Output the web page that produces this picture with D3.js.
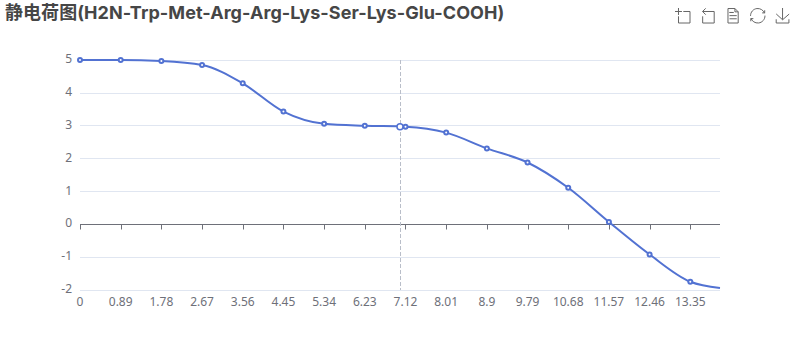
<!DOCTYPE html>
<html><head><meta charset="utf-8">
<script src="https://cdn.jsdelivr.net/npm/d3@7/dist/d3.min.js"></script>
<style>html,body{margin:0;padding:0;background:#fff}svg{display:block}</style>
</head><body><svg id="c" width="800" height="360"></svg>
<script>
const titleText = "静电荷图(H2N-Trp-Met-Arg-Arg-Lys-Ser-Lys-Glu-COOH)";
const pH = [0,0.89,1.78,2.67,3.56,4.45,5.34,6.23,7.12,8.01,8.9,9.79,10.68,11.57,12.46,13.35];
const charge = [5,5,4.97,4.85,4.29,3.43,3.06,3.0,2.97,2.79,2.31,1.88,1.11,0.07,-0.92,-1.75];
const endPH = 14, endCharge = -1.94;
const hoverPH = 7.0, hoverCharge = 2.97;
const yTicks = [5,4,3,2,1,0,-1,-2];
const xTickLabels = pH.map(String);
const toolIcons = [
 'M0,13.5h26.9 M13.5,26.9V0 M32.1,13.5H58V58H13.5 V32.1',
 'M22,1.4L9.9,13.5l12.3,12.3 M10.3,13.5H54.9v44.6 H10.3v-26',
 'M17.5,17.3H33 M17.5,17.3H33 M45.4,29.5h-28 M11.5,2v56H51V14.8L38.4,2H11.5z M38.4,2.2v12.7H51 M45.4,41.7h-28',
 'M3.8,33.4 M47,18.9h9.8V8.7 M56.3,20.1 C52.1,9,40.5,0.6,26.8,2.1C12.6,3.7,1.6,16.2,2.1,30.6 M13,41.1H3.1v10.2 M3.7,39.9c4.2,11.1,15.8,19.5,29.5,18 c14.2-1.6,25.2-14.1,24.7-28.5',
 'M4.7,22.9L29.3,45.5L54.7,23.4M4.6,43.6L4.6,58L53.8,58L53.8,43.6M29.2,45.1L29.2,0'
];
const font = '"Noto Sans","Noto Sans CJK SC",sans-serif';
const titleFont = 'Inter,"Noto Sans CJK SC",sans-serif';
const lineColor = '#5272D2';
const svg = d3.select('#c');
const x = d3.scaleLinear().domain([0,14]).range([80,720]);
const y = d3.scaleLinear().domain([-2,5]).range([290,60]);

svg.append('text').attr('x',5).attr('y',19).text(titleText)
  .attr('font-family',titleFont).attr('font-size',18).attr('font-weight',700).attr('fill','#464646')
  .attr('letter-spacing','0.06px');

const tb = svg.append('g');
toolIcons.forEach((d,i)=>{
  tb.append('path').attr('d',d).attr('transform',`translate(${675+i*25},8) scale(${15/58})`)
    .attr('fill','none').attr('stroke','#666').attr('stroke-width',1).attr('vector-effect','non-scaling-stroke');
});

const crisp = v=>Math.floor(v+0.2)+0.5;
svg.append('g').selectAll('line').data(yTicks.filter(d=>d!==0)).join('line')
  .attr('x1',80).attr('x2',720).attr('y1',d=>crisp(y(d))).attr('y2',d=>crisp(y(d)))
  .attr('stroke','#E0E6F1');
svg.append('g').selectAll('text').data(yTicks).join('text')
  .attr('x',72).attr('y',d=>y(d)-1).attr('dy','0.35em').attr('text-anchor','end').text(d=>d)
  .attr('font-family',font).attr('font-size',12).attr('fill','#6E7079');

const y0 = crisp(y(0));
svg.append('line').attr('x1',80).attr('x2',720).attr('y1',y0).attr('y2',y0).attr('stroke','#6E7079');
svg.append('g').selectAll('line').data(pH).join('line')
  .attr('x1',d=>Math.round(x(d))+0.5).attr('x2',d=>Math.round(x(d))+0.5).attr('y1',y0).attr('y2',y0+5).attr('stroke','#6E7079');
svg.append('g').selectAll('text').data(pH).join('text')
  .attr('x',d=>x(d)).attr('y',302).attr('dy','0.35em').attr('text-anchor','middle').text((d,i)=>xTickLabels[i])
  .attr('font-family',font).attr('font-size',12).attr('fill','#6E7079');

svg.append('line').attr('x1',Math.round(x(hoverPH))+0.5).attr('x2',Math.round(x(hoverPH))+0.5).attr('y1',60).attr('y2',290)
  .attr('stroke','#B9BEC9').attr('stroke-dasharray','4 2');

const pts = pH.map((d,i)=>[d,charge[i]]).concat([[endPH,endCharge]]);
const line = d3.line().x(d=>x(d[0])).y(d=>y(d[1])).curve(d3.curveMonotoneX);
svg.append('path').attr('d',line(pts)).attr('fill','none').attr('stroke',lineColor).attr('stroke-width',2);
svg.append('g').selectAll('circle').data(pH.map((d,i)=>[d,charge[i]])).join('circle')
  .attr('cx',d=>x(d[0])).attr('cy',d=>y(d[1])).attr('r',2)
  .attr('fill','#fff').attr('stroke',lineColor).attr('stroke-width',2);
svg.append('circle').attr('cx',x(hoverPH)).attr('cy',y(hoverCharge)).attr('r',3)
  .attr('fill','#fff').attr('stroke',lineColor).attr('stroke-width',1.5);
</script></body></html>
